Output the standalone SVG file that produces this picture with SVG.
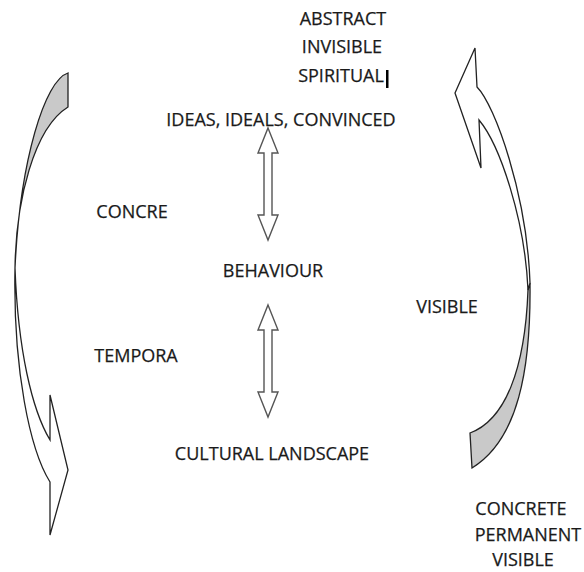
<svg xmlns="http://www.w3.org/2000/svg" width="584" height="572" viewBox="0 0 584 572">
<style>
text{font-family:"Open Sans","Liberation Sans",sans-serif;font-size:18px;fill:#1a1a1a;stroke:#1a1a1a;stroke-width:0.25;text-anchor:middle}
.sh{stroke:#222;stroke-width:1.3;stroke-linejoin:miter}
.gray{fill:#c9c9c9}
.white{fill:#fff}
.dbl{fill:#fff;stroke:#555;stroke-width:1.4}
</style>
<rect width="584" height="572" fill="#fff"/>
<g id="label-top">
<text x="343" y="25">ABSTRACT</text>
<text x="342" y="53">INVISIBLE</text>
<text x="341" y="82">SPIRITUAL</text>
<rect x="386" y="70" width="2.5" height="18" fill="#000"/>
</g>
<g id="node-ideas"><text x="281" y="126">IDEAS, IDEALS, CONVINCED</text></g>
<g id="node-behaviour"><text x="273" y="277">BEHAVIOUR</text></g>
<g id="node-landscape"><text x="272" y="460">CULTURAL LANDSCAPE</text></g>
<g id="label-concre"><text x="132" y="218">CONCRE</text></g>
<g id="label-tempora"><text x="136" y="362">TEMPORA</text></g>
<g id="label-visible"><text x="447" y="313">VISIBLE</text></g>
<g id="label-bottom">
<text x="521" y="515">CONCRETE</text>
<text x="528" y="541">PERMANENT</text>
<text x="523" y="566">VISIBLE</text>
</g>
<g id="connectors">
<g id="left-arrow">
<path class="sh gray" d="M68,73 C45,80 20,160 15,268 C16,200 34,128 68,107 Z"/>
<path class="sh white" d="M15,268 C13,370 30,450 50,482 L50,535 L68,470 L50,395 L50,440 C32,410 18,350 15,268 Z"/>
</g>
<g id="right-arrow">
<path class="sh gray" d="M530,283 C531,370 518,440 472,468 L470,433 C505,420 525,370 528,290 Z"/>
<path class="sh white" d="M530,283 C527,195 495,105 477,87 L475,48 L455,93 L481,168 L479,120 C500,145 525,220 528,290 Z"/>
</g>
<path id="dbl-upper" class="dbl" d="M268,128 L278,153 L272,153 L272,215 L278,215 L268,240 L258,215 L264,215 L264,153 L258,153 Z"/>
<path id="dbl-lower" class="dbl" d="M268,305 L278,330 L272,330 L272,392 L278,392 L268,417 L258,392 L264,392 L264,330 L258,330 Z"/>
</g>
</svg>
